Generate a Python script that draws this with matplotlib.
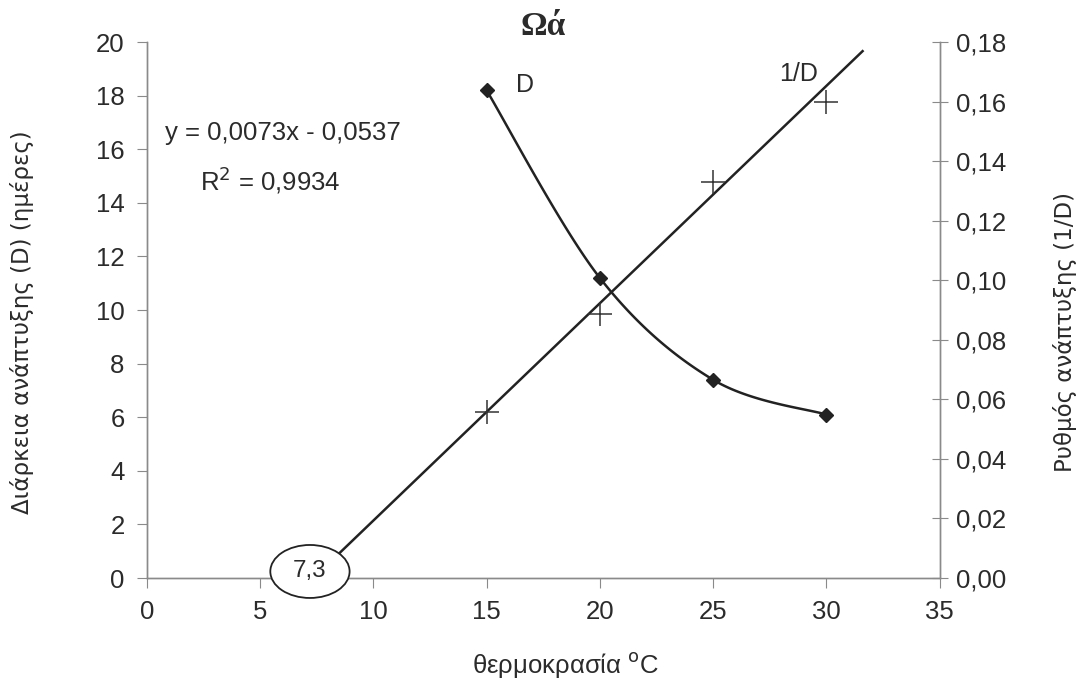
import numpy as np
import matplotlib
matplotlib.use("Agg")
import matplotlib.pyplot as plt
from matplotlib.patches import Ellipse
from matplotlib.ticker import FuncFormatter, MultipleLocator

# temperature (°C), development time D (days) and rate 1/D
temp = [15, 20, 25, 30]
duration = [18.2, 11.2, 7.4, 6.1]
rate = [0.0557, 0.0887, 0.133, 0.160]

slope = 0.0073
intercept = -0.0537
r_squared = 0.9934
fit_x_end = 31.6
threshold_label = "7,3"

plt.rcParams["font.family"] = ["Liberation Sans", "DejaVu Sans"]

INK = "#222222"
AXIS_GREY = "#8a8a8a"
TEXT = "#2b2b2b"


def smooth_curve(xs, ys, sx, sy, n=40):
    # Catmull-Rom through the points, computed in screen-like units
    px = np.asarray(xs, float) * sx
    py = np.asarray(ys, float) * sy
    P = np.column_stack([px, py])
    P = np.vstack([P[0], P, P[-1]])
    out = []
    for i in range(1, len(P) - 2):
        p0, p1, p2, p3 = P[i - 1], P[i], P[i + 1], P[i + 2]
        t = np.linspace(0, 1, n)[:, None]
        seg = 0.5 * ((2 * p1) + (-p0 + p2) * t
                     + (2 * p0 - 5 * p1 + 4 * p2 - p3) * t ** 2
                     + (-p0 + 3 * p1 - 3 * p2 + p3) * t ** 3)
        out.append(seg if i == 1 else seg[1:])
    out = np.vstack(out)
    return out[:, 0] / sx, out[:, 1] / sy


def comma(fmt):
    return FuncFormatter(lambda v, _: format(v, fmt).replace(".", ","))


fig = plt.figure(figsize=(10.8, 6.91), dpi=100)
ax = fig.add_axes([0.136, 0.1635, 0.734, 0.7755])
ax2 = ax.twinx()

ax.set_xlim(0, 35)
ax.set_ylim(0, 20)
ax2.set_ylim(0, 0.18)

# D curve (left axis)
cx, cy = smooth_curve(temp, duration, 793 / 35, 536 / 20)
ax.plot(cx, cy, color=INK, lw=1.8, zorder=3)
ax.plot(temp, duration, ls="none", marker="D", ms=7, color=INK, zorder=4)

# 1/D points and the linear fit (right axis)
x0 = -intercept / slope
fx = np.array([x0, fit_x_end])
ax2.plot(fx, slope * fx + intercept, color=INK, lw=1.8, zorder=3)
ax2.plot(temp, rate, ls="none", marker="+", ms=17, mew=1.1, color="#333333", zorder=4)

# threshold temperature marker
ell = Ellipse((7.2, 0.0022), width=3.5, height=0.0178, facecolor="white",
              edgecolor=INK, lw=1.3, zorder=6, clip_on=False)
ax2.add_patch(ell)
ax2.text(7.2, 0.0022, threshold_label, ha="center", va="center", fontsize=17.5,
         color=TEXT, zorder=7)

# series labels and fit equation
ax.text(16.3, 18.4, "D", fontsize=18, color=TEXT, ha="left", va="center")
ax.text(27.9, 18.8, "1/D", fontsize=18, color=TEXT, ha="left", va="center")
ax.text(0.8, 16.6, f"y = {slope:.4f}x - {abs(intercept):.4f}".replace(".", ","),
        fontsize=18.5, color=TEXT, ha="left", va="center")
ax.text(2.35, 14.85, "R$^2$ = " + f"{r_squared:.4f}".replace(".", ","),
        fontsize=18.5, color=TEXT, ha="left", va="center")

ax.set_title("Ωά", fontsize=24, fontweight="bold", family="Liberation Serif",
             color=TEXT, pad=1)

# axes styling
for a in (ax, ax2):
    a.spines["top"].set_visible(False)
    for s in ("left", "right", "bottom"):
        a.spines[s].set_color(AXIS_GREY)
        a.spines[s].set_linewidth(1.0)

ax.xaxis.set_major_locator(MultipleLocator(5))
ax.yaxis.set_major_locator(MultipleLocator(2))
ax2.yaxis.set_major_locator(MultipleLocator(0.02))
ax2.yaxis.set_major_formatter(comma(".2f"))

ax.tick_params(axis="x", direction="out", length=7, color=AXIS_GREY,
               labelsize=18.5, labelcolor=TEXT, pad=9)
ax.tick_params(axis="y", direction="out", length=7, color=AXIS_GREY,
               labelsize=18.5, labelcolor=TEXT, pad=9)
ax2.tick_params(axis="y", direction="inout", length=11, color=AXIS_GREY,
                labelsize=18.5, labelcolor=TEXT, pad=6)

ax.set_xlabel("θερμοκρασία $^{\\rm o}$C", fontsize=18.5, color=TEXT)
ax.xaxis.set_label_coords(0.528, -0.135)

# axis titles placed in figure pixels
fig.text(22 / 1080, 1 - 322 / 691, "Διάρκεια ανάπτυξης (D) (ημέρες)",
         rotation=90, ha="center", va="center", fontsize=16.5, color=TEXT,
         family="DejaVu Sans")
fig.text(1065 / 1080, 1 - 332 / 691, "Ρυθμός ανάπτυξης (1/D)",
         rotation=90, ha="center", va="center", fontsize=16.5, color=TEXT,
         family="DejaVu Sans")

fig.savefig("out.png", dpi=100, facecolor="white")
